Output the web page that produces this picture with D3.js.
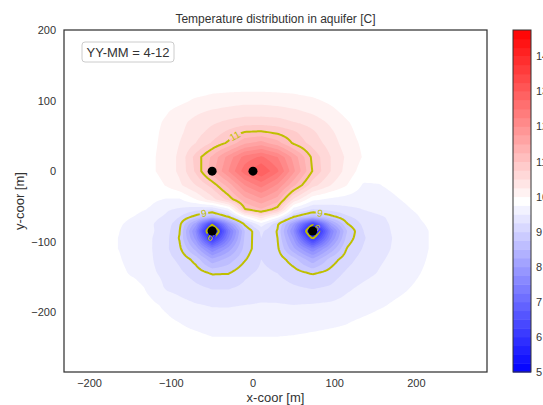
<!DOCTYPE html>
<html><head><meta charset="utf-8">
<script src="https://cdn.jsdelivr.net/npm/d3@7"></script>
<style>
html,body{margin:0;padding:0;background:#fff;overflow:hidden}
text{font-family:"Liberation Sans",Arial,Helvetica,sans-serif}
</style></head><body>
<svg id="chart" width="543" height="405"></svg>
<script>
// ---------------- data ----------------
const xNodes = [-190,-165,-145,-125,-105,-90,-70,-50,-30,-10,10,30,50,73,95,115,135,155,180,205,235];
const yNodes = [140,115,100,85,70,55,40,20,0,-20,-40,-55,-65,-75,-85,-95,-110,-125,-145,-165,-190,-215,-240,-265];
const temperatureRows = [
 [9.85,9.85,9.85,9.85,9.85,9.85,9.85,9.85,9.85,9.85,9.85,9.85,9.85,9.85,9.85,9.85,9.85,9.85,9.85,9.85,9.85],
 [9.85,9.85,9.85,9.85,9.85,9.85,9.88,9.95,9.96,9.97,9.97,9.96,9.95,9.9,9.85,9.85,9.85,9.85,9.85,9.85,9.85],
 [9.85,9.85,9.85,9.85,9.85,9.92,10.05,10.1,10.15,10.18,10.18,10.15,10.1,10.05,9.95,9.85,9.85,9.85,9.85,9.85,9.85],
 [9.85,9.85,9.85,9.85,9.98,10.1,10.2,10.28,10.33,10.37,10.37,10.35,10.3,10.2,10.07,9.92,9.85,9.85,9.85,9.85,9.85],
 [9.85,9.85,9.85,9.9,10.05,10.18,10.32,10.45,10.55,10.62,10.63,10.6,10.5,10.38,10.2,10.02,9.88,9.85,9.85,9.85,9.85],
 [9.85,9.85,9.85,9.92,10.08,10.2,10.4,10.6,10.82,11.02,11.05,10.95,10.8,10.55,10.3,10.08,9.9,9.85,9.85,9.85,9.85],
 [9.85,9.85,9.85,9.93,10.1,10.25,10.5,10.78,11.05,11.45,11.6,11.35,10.95,10.65,10.38,10.12,9.95,9.85,9.85,9.85,9.85],
 [9.85,9.85,9.85,9.95,10.12,10.3,10.85,11.3,11.85,12.35,12.55,12.25,11.65,10.93,10.5,10.2,9.98,9.85,9.85,9.85,9.85],
 [9.85,9.85,9.85,9.95,10.12,10.3,10.8,11.4,12.0,12.65,13.0,12.55,11.8,10.98,10.5,10.15,9.88,9.85,9.85,9.85,9.85],
 [9.85,9.85,9.85,9.85,10.03,10.2,10.5,10.85,11.35,12.0,12.35,11.95,11.3,10.6,10.25,10.0,9.72,9.74,9.85,9.85,9.85],
 [9.85,9.85,9.82,9.8,9.73,9.72,10.0,10.4,10.85,11.4,11.7,11.4,10.45,9.82,9.7,9.65,9.6,9.62,9.75,9.85,9.85],
 [9.85,9.85,9.82,9.72,9.52,9.45,9.3,9.2,9.6,10.95,11.2,10.85,9.55,9.2,9.3,9.42,9.5,9.57,9.68,9.8,9.85],
 [9.85,9.82,9.74,9.58,9.45,9.25,8.9,8.6,9.0,9.85,10.4,9.85,9.0,8.6,8.9,9.2,9.38,9.47,9.58,9.76,9.85],
 [9.85,9.78,9.68,9.53,9.35,9.08,8.1,6.1,7.9,9.05,9.65,9.05,8.0,6.1,8.1,8.98,9.3,9.45,9.56,9.73,9.85],
 [9.82,9.76,9.65,9.55,9.32,9.02,7.7,5.0,7.3,8.75,9.3,8.98,7.7,5.0,7.5,8.75,9.25,9.43,9.56,9.7,9.85],
 [9.82,9.75,9.64,9.52,9.3,8.98,7.9,5.9,7.5,8.8,9.25,9.0,7.95,5.9,7.7,8.85,9.22,9.42,9.55,9.7,9.85],
 [9.82,9.75,9.63,9.52,9.28,9.06,8.4,7.5,8.1,8.85,9.2,9.05,8.3,7.5,8.3,9.02,9.27,9.43,9.56,9.7,9.85],
 [9.82,9.78,9.64,9.53,9.32,9.2,8.9,8.3,8.6,8.97,9.25,9.15,8.85,8.3,8.85,9.15,9.35,9.47,9.58,9.72,9.85],
 [9.85,9.82,9.7,9.55,9.42,9.3,9.15,8.98,8.99,9.2,9.3,9.25,9.12,8.98,9.1,9.3,9.42,9.52,9.62,9.75,9.85],
 [9.85,9.85,9.85,9.68,9.45,9.4,9.3,9.22,9.22,9.3,9.38,9.35,9.28,9.22,9.28,9.45,9.55,9.63,9.7,9.8,9.85],
 [9.85,9.85,9.85,9.8,9.7,9.6,9.52,9.48,9.48,9.5,9.52,9.52,9.5,9.52,9.55,9.6,9.65,9.72,9.8,9.85,9.85],
 [9.85,9.85,9.85,9.85,9.8,9.75,9.68,9.63,9.62,9.62,9.63,9.63,9.65,9.67,9.7,9.74,9.8,9.85,9.85,9.85,9.85],
 [9.85,9.85,9.85,9.85,9.85,9.85,9.83,9.78,9.78,9.78,9.78,9.78,9.79,9.82,9.85,9.85,9.85,9.85,9.85,9.85,9.85],
 [9.85,9.85,9.85,9.85,9.85,9.85,9.85,9.85,9.85,9.85,9.85,9.85,9.85,9.85,9.85,9.85,9.85,9.85,9.85,9.85,9.85]
];
const ambientTemp = 9.85;
const wellX = [-50, 0, -50, 73];
const wellY = [0, 0, -85, -85];
const lineLevels = [6, 9, 11];
const labelLevels = [11, 9, 9, 6, 6];
const labelNearX = [-22, -61, 81, -53, 79];
const labelNearY = [48, -60, -60, -95, -80];
const xTicks = [-200, -100, 0, 100, 200];
const yTicks = [-200, -100, 0, 100, 200];
const cbarTicks = [5, 6, 7, 8, 9, 10, 11, 12, 13, 14];
const colorMin = 5, colorMax = 14.75, levelStep = 0.25;
const titleText = "Temperature distribution in aquifer [C]";
const xLabelText = "x-coor [m]";
const yLabelText = "y-coor [m]";
const stampText = "YY-MM = 4-12";

// ---------------- layout ----------------
const plot = {left: 64, right: 487, top: 30, bottom: 372};
const cbar = {left: 513, right: 531, top: 30, bottom: 372};
const x = d3.scaleLinear().domain([-231.3, 286.4]).range([plot.left, plot.right]);
const y = d3.scaleLinear().domain([-285.2, 200.5]).range([plot.bottom, plot.top]);
const cScale = d3.scaleLinear().domain([colorMin, colorMax]).range([cbar.bottom, cbar.top]);
const textColor = "#333";
const lineColor = "#bfbf00";

function bwr(v) {
  const t = Math.max(0, Math.min(1, (v - colorMin) / (colorMax - colorMin)));
  if (t < 0.5) { const c = Math.round(510 * t); return `rgb(${c},${c},255)`; }
  const c = Math.round(510 * (1 - t)); return `rgb(255,${c},${c})`;
}

// ---------------- field on a fine grid (bilinear between read nodes) ----------------
const yAsc = yNodes.slice().reverse();
const rowsAsc = temperatureRows.slice().reverse();
function sample(px, py) {
  if (px < xNodes[0] || px > xNodes[xNodes.length-1] || py < yAsc[0] || py > yAsc[yAsc.length-1]) return ambientTemp;
  let i = d3.bisectRight(xNodes, px) - 1; i = Math.max(0, Math.min(xNodes.length - 2, i));
  let j = d3.bisectRight(yAsc, py) - 1; j = Math.max(0, Math.min(yAsc.length - 2, j));
  const tx = (px - xNodes[i]) / (xNodes[i+1] - xNodes[i]);
  const ty = (py - yAsc[j]) / (yAsc[j+1] - yAsc[j]);
  const r0 = rowsAsc[j], r1 = rowsAsc[j+1];
  return (1-ty)*((1-tx)*r0[i] + tx*r0[i+1]) + ty*((1-tx)*r1[i] + tx*r1[i+1]);
}
const step = 2, gx0 = -240, gx1 = 296, gy0 = -296, gy1 = 210;
const nx = Math.round((gx1 - gx0) / step) + 1, ny = Math.round((gy1 - gy0) / step) + 1;
const values = new Float64Array(nx * ny);
for (let jj = 0; jj < ny; jj++) for (let ii = 0; ii < nx; ii++)
  values[jj * nx + ii] = sample(gx0 + ii * step, gy1 - jj * step);

const proj = d3.geoTransform({point: function(cx, cy) {
  this.stream.point(x(gx0 + (cx - 0.5) * step), y(gy1 - (cy - 0.5) * step));
}});
const path = d3.geoPath(proj);
const toPx = (c) => [x(gx0 + (c[0] - 0.5) * step), y(gy1 - (c[1] - 0.5) * step)];

// ---------------- draw ----------------
const svg = d3.select("#chart");
svg.append("rect").attr("width", 543).attr("height", 405).attr("fill", "#fff");
const defs = svg.append("defs");
defs.append("clipPath").attr("id", "plotclip").append("rect")
  .attr("x", plot.left).attr("y", plot.top).attr("width", plot.right - plot.left).attr("height", plot.bottom - plot.top);

const fillLevels = d3.range(0, Math.round((colorMax - colorMin) / levelStep)).map(i => colorMin + i * levelStep);
const fills = d3.contours().size([nx, ny]).thresholds(fillLevels)(values);
const gFill = svg.append("g").attr("clip-path", "url(#plotclip)");
gFill.selectAll("path").data(fills).join("path")
  .attr("d", path).attr("fill", d => bwr(d.value + levelStep / 2)).attr("stroke", "none");

// contour lines with inline labels
const lines = d3.contours().size([nx, ny]).thresholds(lineLevels)(values);
const mask = defs.append("mask").attr("id", "lblmask").attr("maskUnits", "userSpaceOnUse")
  .attr("x", 0).attr("y", 0).attr("width", 543).attr("height", 405);
mask.append("rect").attr("width", 543).attr("height", 405).attr("fill", "#fff");
const gLines = svg.append("g").attr("clip-path", "url(#plotclip)");
gLines.append("g").attr("mask", "url(#lblmask)").selectAll("path").data(lines).join("path")
  .attr("d", path).attr("fill", "none").attr("stroke", lineColor).attr("stroke-width", 2).attr("stroke-linejoin", "round");

const gLabels = svg.append("g");
labelLevels.forEach((lev, k) => {
  const c = lines.find(d => d.value === lev);
  if (!c) return;
  const ax = x(labelNearX[k]), ay = y(labelNearY[k]);
  let best = null, bd = Infinity;
  c.coordinates.forEach(poly => poly.forEach(ring => {
    const pts = ring.map(toPx);
    pts.forEach((p, idx) => {
      const d = (p[0]-ax)**2 + (p[1]-ay)**2;
      if (d < bd) { bd = d; best = {pts, idx}; }
    });
  }));
  if (!best) return;
  const n = best.pts.length - 1;
  const p = best.pts[best.idx];
  const a = best.pts[(best.idx - 3 + n) % n], b = best.pts[(best.idx + 3) % n];
  let ang = Math.atan2(b[1] - a[1], b[0] - a[0]) * 180 / Math.PI;
  if (ang > 90) ang -= 180; if (ang < -90) ang += 180;
  const t = gLabels.append("text").attr("x", p[0]).attr("y", p[1])
    .attr("text-anchor", "middle").attr("dominant-baseline", "central")
    .attr("font-size", 10).attr("fill", lineColor)
    .attr("transform", `rotate(${ang},${p[0]},${p[1]})`).text(String(lev));
  const w = t.node().getComputedTextLength() + 3;
  mask.append("rect").attr("x", p[0] - w / 2).attr("y", p[1] - 4.5).attr("width", w).attr("height", 9)
    .attr("fill", "#000").attr("transform", `rotate(${ang},${p[0]},${p[1]})`);
});

// wells
svg.append("g").selectAll("circle").data(d3.range(wellX.length)).join("circle")
  .attr("cx", i => x(wellX[i])).attr("cy", i => y(wellY[i])).attr("r", 4.5).attr("fill", "#000");

// spines
svg.append("rect").attr("x", plot.left).attr("y", plot.top)
  .attr("width", plot.right - plot.left).attr("height", plot.bottom - plot.top)
  .attr("fill", "none").attr("stroke", "#333").attr("stroke-width", 1.25);

// ticks
svg.append("g").selectAll("text").data(xTicks).join("text")
  .attr("x", d => x(d)).attr("y", plot.bottom + 15).attr("text-anchor", "middle")
  .attr("font-size", 11).attr("fill", textColor).text(d => d3.format("")(d).replace("-", "\u2212"));
svg.append("g").selectAll("text").data(yTicks).join("text")
  .attr("x", plot.left - 8).attr("y", d => y(d) + 4).attr("text-anchor", "end")
  .attr("font-size", 11).attr("fill", textColor).text(d => String(d).replace("-", "\u2212"));

// labels
svg.append("text").attr("x", (plot.left + plot.right) / 2).attr("y", 23).attr("text-anchor", "middle")
  .attr("font-size", 12).attr("fill", textColor).text(titleText);
svg.append("text").attr("x", (plot.left + plot.right) / 2).attr("y", 402).attr("text-anchor", "middle")
  .attr("font-size", 13).attr("fill", textColor).text(xLabelText);
svg.append("text").attr("transform", `translate(24,${(plot.top + plot.bottom) / 2}) rotate(-90)`)
  .attr("text-anchor", "middle").attr("font-size", 13).attr("fill", textColor).text(yLabelText);

// stamp box
const gStamp = svg.append("g");
gStamp.append("rect").attr("x", 82).attr("y", 42).attr("width", 92).attr("height", 20).attr("rx", 3)
  .attr("fill", "#fff").attr("fill-opacity", 0.85).attr("stroke", "#ccc").attr("stroke-width", 1);
gStamp.append("text").attr("x", 128).attr("y", 57).attr("text-anchor", "middle")
  .attr("font-size", 13).attr("fill", textColor).text(stampText);

// colorbar
const gC = svg.append("g");
gC.selectAll("rect").data(fillLevels).join("rect")
  .attr("x", cbar.left).attr("width", cbar.right - cbar.left)
  .attr("y", d => cScale(d + levelStep)).attr("height", d => cScale(d) - cScale(d + levelStep) + 0.5)
  .attr("fill", d => bwr(d + levelStep / 2));
gC.append("rect").attr("x", cbar.left).attr("y", cbar.top).attr("width", cbar.right - cbar.left)
  .attr("height", cbar.bottom - cbar.top).attr("fill", "none").attr("stroke", "#333").attr("stroke-width", 1);
gC.selectAll("text").data(cbarTicks).join("text")
  .attr("x", cbar.right + 5).attr("y", d => cScale(d) + 4).attr("font-size", 11)
  .attr("fill", textColor).text(d => String(d));
</script>
</body></html>
